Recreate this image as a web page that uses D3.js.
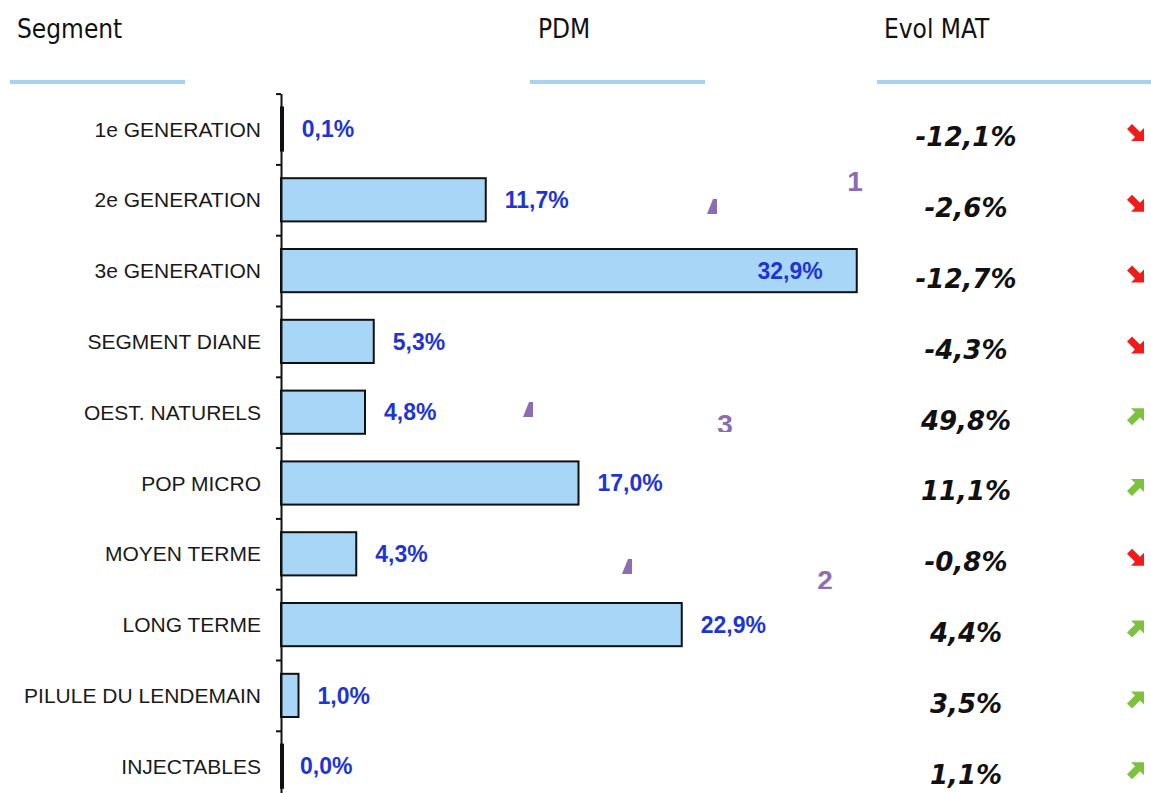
<!DOCTYPE html>
<html>
<head>
<meta charset="utf-8">
<script src="https://cdn.jsdelivr.net/npm/d3@7"></script>
<style>
  body { margin: 0; background: #fff; }
  svg { display: block; }
</style>
</head>
<body>
<svg id="chart" width="1151" height="793"></svg>
<script>
var segments = ["1e GENERATION", "2e GENERATION", "3e GENERATION", "SEGMENT DIANE", "OEST. NATURELS",
  "POP MICRO", "MOYEN TERME", "LONG TERME", "PILULE DU LENDEMAIN", "INJECTABLES"];
var pdm = [0.1, 11.7, 32.9, 5.3, 4.8, 17.0, 4.3, 22.9, 1.0, 0.0];
var evolMat = [-12.1, -2.6, -12.7, -4.3, 49.8, 11.1, -0.8, 4.4, 3.5, 1.1];
var headers = ["Segment", "PDM", "Evol MAT"];

var svg = d3.select("#chart");
var fmt = function (v) { return v.toFixed(1).replace(".", ",") + "%"; };

// header row
var headerX = [17, 538, 884];
var lineX = [[10, 185], [530, 705], [877, 1151]];
svg.selectAll(".hdr")
  .data(headers)
  .enter()
  .append("text")
  .attr("class", "hdr")
  .attr("x", function (d, i) { return headerX[i]; })
  .attr("y", 38)
  .style("font-family", "'DejaVu Sans Condensed', 'DejaVu Sans', sans-serif")
  .style("font-size", "26px")
  .style("fill", "#111")
  .text(function (d) { return d; });
svg.selectAll(".hdr-line")
  .data(lineX)
  .enter()
  .append("rect")
  .attr("x", function (d) { return d[0]; })
  .attr("y", 80)
  .attr("width", function (d) { return d[1] - d[0]; })
  .attr("height", 4)
  .attr("fill", "#a6d2f3");

// scales
var y = d3.scaleBand().domain(segments).range([93.6, 801.6]).paddingInner(0.39).paddingOuter(0.195);
var yEdge = d3.scaleLinear().domain([0, segments.length]).range([93.6, 801.6]);
var x = d3.scaleLinear().domain([0, 35]).range([281, 281 + 35 * 17.5]);
var mid = function (d) { return y(d) + y.bandwidth() / 2; };

// bars (near-zero values still show as a thick edge, like the source)
svg.selectAll(".bar")
  .data(pdm)
  .enter()
  .append("rect")
  .attr("class", "bar")
  .attr("x", x(0))
  .attr("y", function (d, i) { return y(segments[i]); })
  .attr("width", function (d) { return Math.max(x(d) - x(0), 2); })
  .attr("height", y.bandwidth())
  .attr("fill", "#a8d6f6")
  .attr("stroke", "#111")
  .attr("stroke-width", 2);

// axis
svg.append("g")
  .attr("transform", "translate(" + x(0) + ",0)")
  .call(d3.axisLeft(yEdge).tickValues(d3.range(0, segments.length + 1)).tickSize(5).tickSizeOuter(0).tickFormat(""))
  .call(function (g) {
    g.selectAll("path, line").attr("stroke", "#111").attr("stroke-width", 2);
  });

// category labels
svg.selectAll(".cat")
  .data(segments)
  .enter()
  .append("text")
  .attr("class", "cat")
  .attr("x", 261)
  .attr("y", function (d) { return mid(d); })
  .attr("dy", "0.36em")
  .attr("text-anchor", "end")
  .style("font-family", "'Liberation Sans', Arial, sans-serif")
  .style("font-size", "21px")
  .style("fill", "#1a1a1a")
  .text(function (d) { return d; });

// value labels
svg.selectAll(".val")
  .data(pdm)
  .enter()
  .append("text")
  .attr("class", "val")
  .attr("x", function (d) { return d > 30 ? x(d) - 34 : x(d) + 19; })
  .attr("y", function (d, i) { return mid(segments[i]); })
  .attr("dy", "0.36em")
  .attr("text-anchor", function (d) { return d > 30 ? "end" : "start"; })
  .style("font-family", "'Liberation Sans', Arial, sans-serif")
  .style("font-weight", "bold")
  .style("font-size", "23px")
  .style("fill", "#1f34d4")
  .text(fmt);

// evol MAT
svg.selectAll(".evol")
  .data(evolMat)
  .enter()
  .append("text")
  .attr("class", "evol")
  .attr("x", 966)
  .attr("y", function (d, i) { return mid(segments[i]) + 8; })
  .attr("dy", "0.36em")
  .attr("text-anchor", "middle")
  .style("font-family", "'DejaVu Sans', Verdana, sans-serif")
  .style("font-weight", "bold")
  .style("font-style", "italic")
  .style("font-size", "26px")
  .style("fill", "#111")
  .text(fmt);

// trend arrows (pointing up-right, rotated for decreases)
var arrowPath = "M8,-8 L8,5 L4,1 L-4,9 L-9,4 L-1,-4 L-5,-8 Z";
svg.selectAll(".arrow")
  .data(evolMat)
  .enter()
  .append("path")
  .attr("class", "arrow")
  .attr("d", arrowPath)
  .attr("transform", function (d, i) {
    return "translate(1136," + (mid(segments[i]) + 4) + ")" + (d < 0 ? " rotate(90)" : "");
  })
  .attr("fill", function (d) { return d < 0 ? "#f01c1c" : "#7cc23e"; });

// stray purple marks from the source slide
var purple = "#8a6db3";
var marks = [["1", 855, 191], ["3", 725, 434], ["2", 825, 590]];
svg.append("clipPath").attr("id", "clip3").append("rect").attr("x", 700).attr("y", 400).attr("width", 60).attr("height", 32);
svg.append("clipPath").attr("id", "clip2").append("rect").attr("x", 800).attr("y", 550).attr("width", 60).attr("height", 39);
svg.selectAll(".mark")
  .data(marks)
  .enter()
  .append("text")
  .attr("x", function (d) { return d[1]; })
  .attr("y", function (d) { return d[2]; })
  .attr("text-anchor", "middle")
  .attr("clip-path", function (d) { return d[0] === "1" ? null : "url(#clip" + d[0] + ")"; })
  .style("font-family", "'Liberation Sans', Arial, sans-serif")
  .style("font-weight", "bold")
  .style("font-size", "28px")
  .style("fill", purple)
  .text(function (d) { return d[0]; });
var wedges = [[707, 199], [523, 402], [622, 559]];
svg.selectAll(".wedge")
  .data(wedges)
  .enter()
  .append("path")
  .attr("d", function (d) {
    return "M" + (d[0] + 6) + "," + d[1] + " L" + (d[0] + 10) + "," + d[1] +
      " L" + (d[0] + 10) + "," + (d[1] + 15) + " L" + d[0] + "," + (d[1] + 15) + " Z";
  })
  .attr("fill", purple);
</script>
</body>
</html>
